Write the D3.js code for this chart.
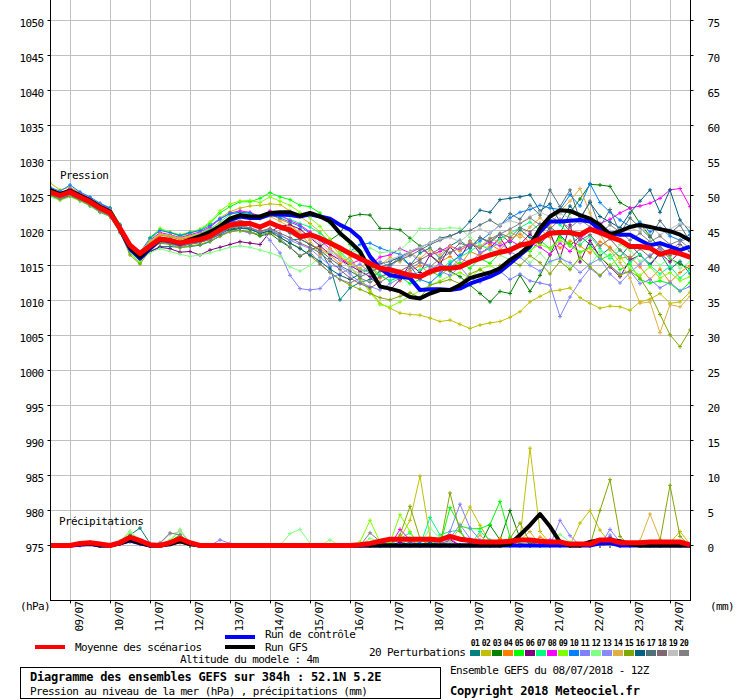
<!DOCTYPE html>
<html>
<head>
<meta charset="utf-8">
<script src="https://cdn.jsdelivr.net/npm/d3@7"></script>
<style>
  body { margin: 0; background: #fff; }
  svg text { font-family: "DejaVu Sans Mono", monospace; font-size: 11px; letter-spacing: -0.6px; fill: #000; }
  svg text.bold { font-weight: bold; font-size: 12px; letter-spacing: -0.2px; }
  svg text.tiny { font-weight: bold; font-size: 8px; letter-spacing: -0.6px; }
</style>
</head>
<body>
<div id="chart"></div>
<script>
// run 08/07/2018 12Z, one step every 6 h up to 384 h
const hours = d3.range(0, 385, 6)
const days = ['09/07','10/07','11/07','12/07','13/07','14/07','15/07','16/07','17/07','18/07','19/07','20/07','21/07','22/07','23/07','24/07']
const dayHours = [12,36,60,84,108,132,156,180,204,228,252,276,300,324,348,372]
const pressTicks = [975,980,985,990,995,1000,1005,1010,1015,1020,1025,1030,1035,1040,1045,1050]
const rainTicks = [0,5,10,15,20,25,30,35,40,45,50,55,60,65,70,75]
const pertNames = ['01','02','03','04','05','06','07','08','09','10','11','12','13','14','15','16','17','18','19','20']
const pertColors = ['#008080','#c0c000','#008000','#ff8000','#00ff00','#800080','#00ff80','#ff00ff','#80ff00','#0080ff',
  '#8080ff','#80ff80','#8888ff','#e0b040','#80a800','#006080','#507078','#806870','#c0c0c0','#808080']

// pression (hPa)
const pressMean = [1025.5,1025.0,1025.5,1024.8,1024.1,1023.2,1022.5,1020.3,1017.9,1016.7,1017.8,1018.8,1018.6,1018.2,1018.5,1018.7,1019.2,1020.1,1020.8,1021.0,1021.0,1020.5,1021.1,1020.5,1020.1,
  1019.1,1019.4,1018.9,1018.2,1017.5,1016.7,1016.0,1015.3,1014.6,1014.4,1014.0,1013.6,1013.4,1014.1,1014.6,1014.6,1014.8,1015.5,1016.0,1016.5,1016.9,1017.2,1017.9,1018.2,1018.8,1019.6,1019.7,1019.7,1019.4,1020.2,1019.7,1019.1,1018.6,1017.7,1017.7,1017.5,1016.6,1017.0,1016.7,1016.2]
const pressGfs = [1025.8,1025.2,1025.7,1025.0,1024.3,1023.4,1022.7,1020.3,1017.6,1016.2,1017.6,1018.8,1018.6,1018.2,1018.7,1019.2,1019.8,1020.6,1021.7,1022.2,1022.0,1022.0,1022.5,1022.6,1022.6,
  1022.1,1022.5,1022.0,1021.3,1019.6,1018.4,1017.0,1014.4,1012.0,1011.7,1011.3,1010.5,1010.3,1011.0,1011.5,1011.5,1012.2,1013.2,1013.6,1014.0,1014.6,1015.8,1016.7,1017.9,1020.3,1022.0,1022.9,1022.8,1022.2,1021.7,1020.8,1019.4,1019.9,1020.5,1020.8,1020.5,1020.2,1019.9,1019.4,1018.6]
const pressCtrl = [1025.7,1025.1,1025.6,1024.9,1024.2,1023.3,1022.6,1020.2,1017.4,1016.0,1017.4,1018.7,1018.5,1018.1,1018.6,1019.0,1019.6,1020.5,1021.5,1022.0,1021.8,1021.8,1022.3,1022.3,1022.2,
  1022.0,1022.3,1022.0,1021.7,1020.8,1020.1,1018.9,1016.3,1014.6,1013.6,1013.4,1013.2,1011.5,1011.6,1011.6,1011.5,1011.7,1012.4,1012.9,1013.4,1014.1,1015.3,1016.5,1017.7,1019.8,1021.3,1021.3,1021.4,1021.5,1021.3,1020.1,1019.6,1019.4,1019.4,1018.6,1017.9,1018.2,1017.7,1017.2,1017.7]

const pert01 = [1025.0,1024.5,1025.0,1024.3,1023.5,1022.6,1022.0,1019.9,1017.5,1016.5,1017.0,1017.7,1017.7,1017.6,1017.7,1017.9,1018.4,1019.2,1020.0,1020.3,1020.2,1019.6,1020.0,1019.3,1018.6,
  1018.8,1018.0,1017.2,1014.8,1010.1,1011.8,1012.6,1013.0,1014.2,1015.0,1016.2,1015.0,1016.8,1017.5,1016.0,1017.8,1018.6,1017.4,1019.0,1018.2,1019.5,1018.3,1020.1,1019.0,1018.2,1020.5,1019.4,1017.8,1019.2,1018.0,1016.4,1017.5,1016.2,1018.0,1016.5,1015.2,1016.8,1014.5,1015.6,1013.8]
const pert02 = [1026.8,1025.8,1026.2,1025.4,1024.6,1023.7,1023.3,1020.8,1018.0,1016.4,1018.2,1019.4,1019.2,1018.7,1019.1,1019.5,1020.4,1021.8,1022.7,1023.2,1023.5,1023.6,1023.8,1023.7,1022.8,
  1022.0,1021.0,1019.8,1018.2,1016.5,1014.8,1013.2,1011.5,1009.6,1008.9,1008.2,1008.0,1007.9,1007.5,1007.0,1007.2,1006.6,1006.0,1006.5,1006.8,1007.0,1007.6,1008.4,1009.8,1010.6,1011.3,1011.5,1011.8,1010.4,1009.6,1008.9,1009.2,1009.1,1008.6,1009.8,1010.2,1011.0,1009.6,1009.8,1011.2]
const pert03 = [1025.6,1025.1,1025.4,1024.7,1024.0,1023.0,1022.4,1020.1,1017.4,1016.0,1017.6,1018.7,1018.4,1018.0,1018.3,1018.5,1019.0,1019.8,1020.2,1020.0,1019.8,1019.2,1019.6,1018.5,1017.6,
  1016.3,1017.2,1017.8,1018.6,1019.6,1022.0,1022.3,1022.2,1020.3,1020.3,1020.1,1018.9,1017.8,1016.5,1015.4,1014.2,1013.4,1012.2,1011.0,1009.8,1011.3,1011.0,1013.6,1011.3,1013.6,1016.5,1019.6,1022.5,1024.5,1026.6,1026.5,1026.3,1024.0,1023.2,1021.0,1019.2,1017.4,1016.0,1015.2,1014.5]
const pert04 = [1025.8,1025.2,1025.8,1025.1,1024.4,1023.5,1022.9,1020.6,1018.0,1016.8,1018.3,1019.3,1019.1,1018.7,1019.0,1019.3,1019.9,1020.8,1021.8,1022.2,1022.0,1021.9,1022.4,1021.6,1021.0,
  1019.5,1018.0,1017.4,1016.5,1015.2,1016.2,1014.0,1015.0,1013.2,1014.0,1012.8,1014.2,1015.0,1013.8,1015.5,1016.3,1015.0,1017.0,1016.4,1018.0,1017.2,1018.8,1019.5,1018.3,1020.2,1019.0,1017.5,1018.5,1017.8,1016.8,1018.4,1017.6,1016.0,1016.3,1014.8,1013.0,1014.5,1012.6,1014.0,1015.0]
const pert05 = [1025.9,1025.3,1025.9,1025.2,1024.6,1023.8,1023.2,1020.9,1016.8,1015.4,1019.0,1020.2,1019.7,1019.2,1019.6,1020.1,1021.0,1022.5,1023.4,1024.1,1024.1,1024.6,1025.4,1024.8,1024.4,
  1023.6,1023.4,1022.5,1021.0,1019.4,1018.0,1016.6,1015.0,1013.6,1012.8,1013.4,1012.4,1013.0,1014.2,1013.5,1014.8,1015.4,1014.6,1016.0,1015.3,1016.8,1017.5,1018.2,1017.0,1018.6,1017.4,1019.0,1018.1,1016.9,1017.6,1015.8,1016.5,1014.4,1015.2,1013.0,1012.5,1012.8,1012.4,1011.3,1012.6]
const pert06 = [1025.3,1024.6,1025.0,1024.3,1023.6,1022.8,1022.0,1019.8,1017.2,1016.0,1017.0,1017.6,1017.4,1016.9,1017.0,1016.5,1017.2,1017.6,1018.0,1018.4,1018.2,1018.0,1019.8,1020.6,1020.8,
  1020.2,1019.0,1017.8,1016.6,1015.8,1015.0,1014.2,1013.4,1012.0,1011.5,1013.0,1015.2,1014.0,1016.5,1015.2,1017.7,1016.0,1018.5,1016.8,1017.5,1019.0,1016.8,1018.0,1019.5,1018.0,1019.8,1016.0,1020.8,1015.5,1018.6,1016.2,1014.8,1013.4,1015.8,1016.5,1015.0,1016.8,1015.5,1017.0,1016.0]
const pert07 = [1025.7,1025.1,1025.7,1025.0,1024.3,1023.4,1022.8,1020.5,1017.8,1016.6,1018.4,1019.5,1019.2,1018.9,1019.3,1019.6,1020.2,1021.2,1022.3,1022.6,1022.4,1021.8,1022.6,1022.0,1021.6,
  1021.0,1020.5,1019.6,1018.4,1017.0,1015.6,1014.5,1014.0,1013.6,1012.8,1013.6,1013.0,1014.4,1015.0,1014.2,1015.6,1016.2,1017.0,1018.0,1017.2,1018.8,1019.6,1020.4,1021.2,1020.0,1021.6,1020.8,1019.5,1018.0,1019.2,1017.4,1016.0,1017.2,1015.4,1016.6,1015.0,1013.8,1014.9,1013.2,1014.4]
const pert08 = [1026.0,1025.3,1026.0,1025.3,1024.6,1023.7,1023.1,1020.7,1018.0,1016.8,1018.6,1019.7,1019.4,1019.0,1019.4,1019.8,1020.5,1021.6,1022.5,1022.8,1022.6,1022.0,1022.8,1022.2,1021.4,
  1020.8,1019.8,1018.6,1017.4,1016.0,1015.2,1015.8,1015.0,1016.2,1016.5,1017.4,1016.8,1017.5,1016.5,1017.0,1017.8,1017.2,1018.0,1017.6,1018.4,1017.8,1018.6,1017.8,1018.2,1017.6,1016.6,1018.2,1017.0,1018.8,1020.0,1021.0,1021.6,1022.5,1023.2,1023.5,1023.9,1024.6,1025.8,1026.0,1023.4]
const pert09 = [1025.4,1024.8,1025.3,1024.6,1024.0,1023.2,1022.7,1020.4,1016.8,1015.3,1018.6,1020.3,1019.8,1019.4,1019.8,1020.2,1021.2,1022.8,1023.8,1024.2,1024.3,1024.0,1024.8,1024.2,1023.6,
  1022.6,1021.8,1020.6,1018.8,1017.0,1015.0,1013.0,1011.2,1009.4,1009.1,1009.8,1010.6,1011.4,1012.2,1012.8,1013.5,1014.0,1013.2,1014.5,1015.0,1014.2,1015.8,1016.4,1017.2,1018.0,1017.4,1018.6,1017.8,1016.8,1017.5,1016.2,1015.0,1016.2,1014.5,1013.6,1014.8,1013.2,1014.0,1012.8,1013.4]
const pert10 = [1026.2,1025.6,1026.5,1025.5,1024.8,1023.9,1023.2,1020.8,1018.0,1016.9,1018.9,1020.0,1019.7,1019.3,1019.7,1020.0,1020.7,1021.7,1022.4,1022.6,1022.5,1021.8,1022.3,1021.8,1021.2,
  1020.6,1019.6,1018.8,1018.0,1017.6,1017.0,1018.0,1018.2,1017.5,1017.0,1016.6,1015.0,1013.0,1012.5,1013.8,1015.2,1016.5,1017.6,1018.5,1019.6,1020.8,1021.8,1022.6,1023.0,1023.6,1023.2,1023.0,1025.1,1023.5,1026.7,1024.0,1022.6,1021.5,1020.6,1021.2,1019.8,1020.4,1019.2,1018.6,1019.4]
const pert11 = [1025.2,1024.6,1025.1,1024.5,1023.8,1022.9,1022.2,1020.0,1017.4,1016.2,1017.4,1018.3,1018.1,1017.7,1018.0,1018.3,1018.7,1019.4,1019.9,1020.0,1019.6,1020.1,1018.6,1016.8,1013.6,
  1011.7,1011.5,1011.7,1013.2,1013.8,1014.6,1015.2,1014.0,1015.6,1014.8,1016.0,1016.8,1015.5,1015.0,1014.2,1013.6,1014.8,1013.2,1012.6,1013.5,1014.2,1013.0,1013.8,1012.8,1012.5,1012.2,1007.7,1010.5,1012.8,1014.6,1013.5,1015.0,1013.8,1014.2,1012.4,1013.0,1011.8,1012.6,1011.4,1012.0]
const pert12 = [1024.8,1024.3,1024.8,1024.2,1023.5,1022.7,1022.0,1019.6,1016.8,1015.8,1016.8,1017.4,1017.0,1016.6,1016.3,1016.5,1016.8,1017.2,1017.6,1017.8,1017.6,1017.2,1016.8,1016.3,1014.8,
  1014.2,1015.0,1016.2,1017.0,1016.5,1017.2,1016.8,1017.5,1016.8,1017.0,1017.2,1018.5,1020.3,1020.3,1020.2,1020.4,1020.3,1019.0,1018.0,1017.4,1016.5,1015.8,1016.6,1015.4,1016.8,1015.2,1016.5,1014.6,1016.0,1015.0,1017.0,1016.2,1018.0,1017.2,1015.6,1016.4,1015.0,1016.2,1014.6,1015.5]
const pert13 = [1025.5,1024.9,1025.4,1024.8,1024.1,1023.3,1022.6,1020.2,1017.6,1016.5,1017.9,1018.8,1018.5,1018.2,1018.4,1018.6,1019.0,1019.8,1020.4,1020.6,1020.4,1019.8,1020.2,1019.4,1018.6,
  1018.0,1017.4,1016.2,1015.0,1014.8,1013.8,1012.6,1012.0,1011.5,1012.4,1013.2,1014.0,1013.6,1014.5,1015.2,1014.6,1016.0,1015.4,1016.8,1017.5,1018.2,1017.0,1016.2,1015.0,1014.2,1015.6,1016.0,1015.4,1014.0,1015.2,1016.0,1013.8,1012.5,1014.0,1015.2,1016.5,1017.4,1016.8,1018.4,1019.0]
const pert14 = [1025.7,1025.2,1025.8,1025.1,1024.4,1023.6,1022.9,1020.6,1018.1,1017.0,1018.5,1019.5,1019.3,1018.9,1019.2,1019.5,1020.0,1021.0,1021.9,1022.2,1022.0,1021.6,1022.0,1021.3,1020.5,
  1019.8,1018.6,1016.5,1017.5,1016.2,1015.4,1014.6,1015.8,1015.0,1016.2,1015.5,1016.8,1016.0,1017.2,1016.5,1017.8,1017.0,1018.4,1017.6,1019.0,1018.2,1019.8,1019.0,1020.5,1021.8,1020.6,1022.8,1024.2,1026.0,1022.5,1019.5,1017.2,1015.4,1013.2,1009.6,1009.8,1005.4,1009.4,1009.1,1010.6]
const pert15 = [1025.0,1024.4,1024.9,1024.3,1023.6,1022.7,1022.1,1019.8,1016.5,1015.2,1017.2,1018.2,1018.0,1017.5,1017.8,1018.0,1018.5,1019.2,1019.8,1020.0,1019.8,1019.4,1019.7,1019.0,1018.2,
  1017.5,1016.4,1015.2,1014.0,1013.0,1012.2,1011.6,1011.0,1010.4,1010.1,1010.6,1011.1,1010.4,1012.2,1012.6,1013.0,1012.4,1013.8,1014.4,1013.6,1015.0,1015.8,1015.0,1016.4,1015.4,1013.8,1015.6,1014.4,1016.2,1014.8,1013.6,1015.0,1013.6,1014.2,1013.2,1011.0,1008.0,1005.1,1003.4,1005.8]
const pert16 = [1025.4,1024.8,1025.3,1024.6,1023.9,1023.1,1022.4,1020.0,1017.4,1016.2,1017.6,1018.4,1018.2,1017.8,1018.1,1018.3,1018.8,1019.5,1020.2,1020.4,1020.2,1019.6,1019.9,1019.0,1018.2,
  1017.4,1016.5,1015.6,1014.5,1013.6,1013.0,1013.8,1014.5,1015.2,1015.6,1016.2,1017.0,1017.6,1018.2,1018.9,1019.2,1019.8,1021.3,1022.9,1022.6,1024.4,1024.6,1024.8,1025.1,1022.8,1023.8,1021.2,1023.5,1021.8,1024.0,1022.0,1021.2,1020.4,1022.5,1024.2,1025.8,1022.6,1025.8,1021.5,1019.8]
const pert17 = [1025.6,1025.0,1025.5,1024.8,1024.1,1023.2,1022.5,1020.2,1017.6,1016.4,1017.9,1018.9,1018.6,1018.3,1018.6,1018.8,1019.4,1020.3,1021.2,1021.4,1021.2,1020.6,1021.3,1020.4,1019.6,
  1018.8,1018.0,1017.2,1016.0,1015.0,1014.2,1013.4,1014.0,1014.8,1015.2,1015.8,1016.4,1017.2,1018.0,1018.6,1019.2,1019.8,1020.0,1020.8,1021.5,1020.6,1022.4,1021.6,1023.6,1022.2,1025.8,1023.4,1025.8,1021.5,1024.2,1020.5,1023.0,1019.6,1021.8,1020.4,1019.0,1021.4,1019.6,1020.8,1018.4]
const pert18 = [1025.3,1024.7,1025.2,1024.5,1023.8,1022.9,1022.3,1020.0,1017.3,1016.0,1017.6,1018.6,1018.3,1017.9,1018.2,1018.4,1018.9,1019.7,1020.4,1020.6,1020.4,1019.9,1020.3,1019.6,1019.0,
  1018.2,1017.6,1016.8,1015.6,1014.4,1013.2,1012.4,1011.8,1012.6,1013.5,1014.2,1015.0,1015.8,1016.6,1017.4,1016.8,1018.2,1017.6,1019.0,1018.4,1019.6,1019.0,1020.4,1019.8,1021.0,1020.2,1021.6,1019.8,1018.6,1019.4,1017.8,1018.8,1017.2,1016.0,1017.4,1016.2,1017.8,1016.4,1018.0,1017.0]
const pert19 = [1025.5,1024.9,1025.5,1024.8,1024.1,1023.2,1022.5,1020.2,1017.8,1016.7,1018.0,1018.9,1018.6,1018.3,1018.6,1018.9,1019.4,1020.3,1021.0,1021.2,1021.1,1020.6,1021.2,1020.6,1020.2,
  1019.6,1019.0,1018.2,1017.0,1015.8,1014.6,1013.8,1014.4,1015.0,1015.8,1016.4,1017.0,1017.6,1018.2,1018.8,1019.0,1018.4,1019.6,1020.2,1019.6,1020.8,1021.4,1021.0,1022.0,1022.6,1022.0,1022.4,1021.8,1021.0,1021.6,1020.6,1020.0,1019.4,1020.4,1019.8,1020.6,1019.4,1020.2,1021.0,1020.4]
const pert20 = [1025.2,1024.6,1025.2,1024.5,1023.7,1022.8,1022.1,1019.7,1017.0,1015.9,1017.4,1018.4,1018.2,1017.8,1018.1,1018.3,1018.8,1019.6,1020.4,1020.6,1020.4,1019.8,1020.2,1018.8,1017.6,
  1016.4,1017.0,1015.2,1014.0,1013.0,1012.5,1013.2,1012.6,1013.4,1014.0,1013.2,1014.6,1015.4,1014.8,1016.0,1016.8,1017.5,1018.2,1017.4,1018.8,1019.5,1020.2,1021.0,1021.8,1020.8,1022.0,1021.2,1020.4,1021.6,1020.5,1019.6,1020.8,1019.8,1018.6,1019.6,1018.4,1019.2,1018.0,1018.6,1017.4]

// précipitations (mm / 6 h)
const rainMean = [0,0,0,0.3,0.4,0.2,0,0.4,1.2,0.7,0.1,0,0.4,1.0,0.4,0, 0,0,0,0,0,0,0,0,0,0,0,0,0,0,0,0.1,
  0.3,0.6,0.9,0.9,0.9,0.9,0.9,0.8,1.3,0.9,0.7,0.5,0.5,0.5,0.6,0.8, 0.8,0.6,0.5,0.5,0.2,0.2,0.2,0.8,0.8,0.4,0.4,0.4,0.5,0.5,0.5,0.5,0.1]
const rainGfs = [0,0,0,0.2,0.3,0,0,0.3,0.8,0.4,0,0,0.2,0.6,0.2,0, 0,0,0,0,0,0,0,0,0,0,0,0,0,0,0,0,
  0,0,0,0,0,0,0,0,0,0,0,0,0,0,0.2,1.5, 2.9,4.5,2.7,0.5,0,0,0.5,0.8,0.8,0.6,0.2,0,0,0,0,0,0]
const rainCtrl = [0,0,0,0.1,0.2,0,0,0.3,0.7,0.3,0,0,0.2,0.7,0.2,0, 0,0,0,0,0,0,0,0,0,0,0,0,0,0,0,0,
  0,0,0,0,0,0,0,0,0,0,0,0,0,0,0,0, 0,0,0,0,0,0,0,0.3,0.4,0,0,0,0,0,0,0,0]

const rain01 = [0,0,0,0.2,0.4,0,0,0.6,1.5,2.5,0.3,0,0.2,0.6,0,0, 0,0,0,0,0,0,0,0,0,0,0,0,0,0,0,0,
  0,0.5,0,0,0,0,0.8,0,0,0,0,0,0.4,0,0,0, 0,0,0,0,0,0,0,0,0,0,0,0,0,0,0,0,0]
const rain02 = [0,0,0,0.3,0.2,0,0,0.4,1.0,0.3,0,0,0.3,0.8,0.2,0, 0,0,0,0,0,0,0,0,0,0,0,0,0,0,0,0,
  0,0,0.3,1.0,3.6,9.9,1.2,0.4,0.5,2.6,5.5,2.9,0.4,0,0,1.0, 13.9,2.0,0.3,0,0,3.2,5.0,2.2,0.3,0,0,0,0,0,0.4,2.0,0.2]
const rain03 = [0,0,0,0.1,0.3,0,0,0.3,0.6,0.2,0,0,0.2,0.5,0,0, 0,0,0,0,0,0,0,0,0,0,0,0,0,0,0,0,
  0,0,0,0,0,0,0,0,0,0,0,0,2.9,0.8,5.0,1.0, 0.3,0,0,0,0,0,0,0.5,1.0,0.4,0,0,0,0,0,0,0]
const rain04 = [0,0,0,0,0.2,0,0,0.2,0.5,0.2,0,0,0.1,0.4,0,0, 0,0,0,0,0,0,0,0,0,0,0,0,0,0,0,0,
  0,0,0,0,0,0,0.5,0,0,0,0,0,0,1.0,0,0, 0,1.2,0.5,0,0,0,0,0,0,0,0,0.3,0,0,0,0,0]
const rain05 = [0,0,0,0.2,0.3,0,0,0.5,1.2,0.4,0,0,0.4,1.3,0.2,0, 0,0,0,0,0,0,0,0,0,0,0,0,0,0,0,0,
  0,0,0,0,1.0,0,0,0,5.4,2.8,2.4,2.4,3.0,6.3,1.2,0.3, 0,0,0,0,0,0,0,0,0.6,0,0,0,0,0,0,0,0]
const rain06 = [0,0,0,0.3,0.5,0.2,0,0.3,0.8,0.3,0,0,0.6,0.9,0.2,0, 0,0,0,0,0,0,0,0,0,0,0,0,0,0,0,0,
  0,0,0,0.5,0,0,0,0,0.8,0,0,0,0,0,0,0, 0,0,0,0,0,0,0,0,1.2,0.4,0,0,0,0,0,0,0]
const rain07 = [0,0,0,0.2,0.3,0,0,0.5,1.4,0.5,0,0,0.5,1.6,0.3,0, 0,0,0,0,0,0,0,0,0,0,0,0,0,0,0,0,
  0,0,0,1.0,1.8,0,4.0,1.5,2.0,2.2,0,2.0,0.8,0,0.4,0, 0,0,0,0,0,0,0,0,0,0,0,0,0,0,0,0,0]
const rain08 = [0,0,0,0.2,0.3,0,0,0.4,1.0,0.3,0,0,0.5,1.0,0.2,0, 0,0,0,0,0,0,0,0,0,0,0,0,0,0,0,0,
  0,0,0,2.3,0.8,0,0,0,1.0,0,0,0,0,0,0.5,0, 0,0,0.8,0.6,0,0,0,0,0,0,0,0,0,0,0,0,0]
const rain09 = [0,0,0,0.3,0.5,0.2,0,0.6,2.0,0.6,0,0,0.6,2.2,0.4,0, 0,0,0,0,0,0,0,0,0,0,0,0,0,0,0,0.5,
  3.6,0.5,0.4,4.4,2.0,0,0,1.2,0.5,0,0,0,0,0,0,0, 0,0,0,0,0,0,0,0,0,0,0,0,0,0,0,0,0]
const rain10 = [0,0,0,0.1,0.2,0,0,0.3,1.0,0.3,0,0,0.3,0.9,0,0, 0,0,0,0,0,0,0,0,0,0,0,0,0,0,0,0,
  0,0,0,0,0,0.4,0,0,0,0,0,0,0,0,0,0, 0,0,0,0,0.3,0,0,0,0,0,0,0,0,0,0,0,0]
const rain11 = [0,0,0,0.1,0.3,0,0,0.3,0.7,0.2,0,0,0.3,0.8,0.2,0, 0,0.8,0.3,0,0,0,0,0,0,0,0,0,0,0,0,0,
  0,0,0,0,0,0,0,0,2.0,5.9,2.5,0.8,0,0,0,0, 0,0,0,3.6,1.4,0,0,0,2.3,0.5,0,0,0,0,0,0,0]
const rain12 = [0,0,0,0.2,0.4,0,0,0.6,2.0,0.8,0,0,0.8,2.3,0.3,0, 0,0,0,0,0,0,0,0,1.7,2.3,0.3,0,0.8,0,0,0,
  1.0,0.6,0,0,0,0,2.5,1.0,0,0,0,0,0,0,0,0, 0,0,0,1.6,0.5,0,0,0,0,0,0,0,0,0,0,0,0]
const rain13 = [0,0,0,0.1,0.3,0,0,0.4,0.9,0.3,0,0,0.3,0.9,0.2,0, 0,0,0,0,0,0,0,0,0,0,0,0,0,0,0,0,
  0,0,0,0,0,0,0,0,1.0,3.0,1.0,0,0,0,0,0, 0,0,0,0,0,0,0,0,1.5,0,0,0,0,0,0,0,0]
const rain14 = [0,0,0,0,0.2,0,0,0.2,0.5,0.2,0,0,0.2,0.7,0,0, 0,0,0,0,0,0,0,0,0,0,0,0,0,0,0,0,
  0,0,0,0,0,0.8,0,0,0,0,0,1.5,0,0,0,0.8, 2.0,0,0,0,0,0,0,0,0,0,0,0.7,4.5,0.9,0,0,0]
const rain15 = [0,0,0,0.2,0.4,0,0,0.4,1.2,0.4,0,0,0.5,1.5,0.3,0, 0,0,0,0,0,0,0,0,0,0,0,0,0,0,0,0,
  0,0,0,1.5,5.6,1.0,0,0,7.5,2.0,0,0,0,0,1.0,3.2, 0.5,0,0,0,0,0,0,5.0,9.4,1.3,0,0,0,0.7,8.6,1.3,0]
const rain16 = [0,0,0,0.1,0.3,0,0,0.4,1.0,0.3,0,0,0.2,0.6,0,0, 0,0,0,0,0,0,0,0,0,0,0,0,0,0,0,0,
  0,0,0,0,0,0,0.4,0,0,0,0,0,0,0.3,0,0, 0,0,0,0,0,0,0,0,0,0,0.3,0,0,0,0,0,0]
const rain17 = [0,0,0,0.2,0.3,0,0,0.5,1.3,0.4,0,0,0.3,1.0,0.2,0, 0,0,0,0,0,0,0,0,0,0,0,0,0,0,0,0,
  0,0,0,0,0.5,0,0,0,0,0,0,0,0,0,0,0, 0,0,0,0,0,0,0,0,0,0,0,0,0,0,0.2,0,0]
const rain18 = [0,0,0,0.1,0.2,0,0,0.3,0.8,0.3,0,0,0.2,0.7,0,0, 0,0,0,0,0,0,0,0,0,0,0,0,0,0,0,0,
  0,0,0,0,0,0,0,0,0,0,0,0,0.3,0,0,0, 0,0,0,0,0,0,0,0,0,0,0,0,0,0,0,0,0]
const rain19 = [0,0,0,0.2,0.3,0,0,0.4,1.0,0.4,0,0.3,1.6,2.0,0.4,0, 0,0,0,0,0,0,0,0,0,0,0,0,0,0,0,0,
  0,0.4,0,0,0,0,0,0,0.5,0,0,0,0,0,0,0, 0,0,0,0,0,0,0,0,0,0,0,0,0,0,0,0,0]
const rain20 = [0,0,0,0.2,0.4,0,0,0.5,1.2,0.4,0,0.4,1.8,1.5,0.3,0, 0,0,0,0,0,0,0,0,0,0,0,0,0,0,0,0,
  1.8,0.6,0,0,0,0,0,0.6,0,0,0,0,0,0,0,0, 0,0,0,0,0,0,0,0,0,0,0,0,0,0,0,0,0]

const pertPress = [pert01,pert02,pert03,pert04,pert05,pert06,pert07,pert08,pert09,pert10,
  pert11,pert12,pert13,pert14,pert15,pert16,pert17,pert18,pert19,pert20]
const pertRain = [rain01,rain02,rain03,rain04,rain05,rain06,rain07,rain08,rain09,rain10,
  rain11,rain12,rain13,rain14,rain15,rain16,rain17,rain18,rain19,rain20]


const x = d3.scaleLinear().domain([0, 384]).range([50, 690])
const yP = d3.scaleLinear().domain([975, 1050]).range([545.5, 20.5])
const yR = d3.scaleLinear().domain([0, 75]).range([545.5, 20.5])

const svg = d3.select('#chart').append('svg')
  .attr('width', 740).attr('height', 700)

svg.append('rect').attr('width', 740).attr('height', 700).attr('fill', '#fff')

svg.append('defs').append('clipPath').attr('id', 'plot')
  .append('rect').attr('x', 50).attr('y', 0).attr('width', 641).attr('height', 600)

// grid
const grid = svg.append('g').attr('stroke', '#c0c0c0').attr('shape-rendering', 'crispEdges')
grid.selectAll('line.h').data(pressTicks).enter().append('line')
  .attr('class', 'h')
  .attr('x1', 50).attr('x2', 690)
  .attr('y1', d => yP(d)).attr('y2', d => yP(d))
grid.selectAll('line.v').data(dayHours).enter().append('line')
  .attr('class', 'v')
  .attr('x1', d => x(d) + 0.5).attr('x2', d => x(d) + 0.5)
  .attr('y1', 0).attr('y2', 600)

// series
const plot = svg.append('g').attr('clip-path', 'url(#plot)')

const lineOf = (scale) => d3.line()
  .x((d, i) => x(hours[i]))
  .y(d => scale(d))

const crosses = (data, scale) => data.map((d, i) => {
  const px = x(hours[i]), py = scale(d)
  return `M${px - 2},${py}H${px + 2}M${px},${py - 2}V${py + 2}`
}).join('')

const drawPerts = (series, scale) => {
  series.forEach((s, k) => {
    plot.append('path').datum(s)
      .attr('d', lineOf(scale))
      .attr('fill', 'none').attr('stroke', pertColors[k]).attr('stroke-width', 1)
    plot.append('path')
      .attr('d', crosses(s, scale))
      .attr('fill', 'none').attr('stroke', pertColors[k]).attr('stroke-width', 1)
  })
}

const drawMain = (data, scale, color, width) => {
  plot.append('path').datum(data)
    .attr('d', lineOf(scale))
    .attr('fill', 'none').attr('stroke', color).attr('stroke-width', width)
    .attr('stroke-linejoin', 'round')
}

drawPerts(pertPress, yP)
drawPerts(pertRain, yR)
drawMain(pressCtrl, yP, '#0000ff', 4)
drawMain(rainCtrl, yR, '#0000ff', 4)
drawMain(pressGfs, yP, '#000000', 4)
drawMain(rainGfs, yR, '#000000', 4)
drawMain(pressMean, yP, '#ff0000', 5)
drawMain(rainMean, yR, '#ff0000', 5)

// axes
const leftAxis = svg.append('g').attr('transform', 'translate(50.5,0)')
  .call(d3.axisLeft(yP).tickValues(pressTicks).tickFormat(d3.format('d'))
    .tickSize(3).tickPadding(4).offset(0))
leftAxis.select('.domain').remove()
leftAxis.selectAll('text').attr('dy', '0.6em')

const rightAxis = svg.append('g').attr('transform', 'translate(690.5,0)')
  .call(d3.axisRight(yR).tickValues(rainTicks).tickFormat(d3.format('d'))
    .tickSize(3).tickPadding(14).offset(0))
rightAxis.select('.domain').remove()
rightAxis.selectAll('text').attr('dy', '0.6em')

const bottomAxis = svg.append('g').attr('transform', 'translate(0,600.5)')
  .call(d3.axisBottom(x).tickValues(dayHours).tickFormat((d, i) => days[i]).tickSize(3).offset(0.5))
bottomAxis.select('.domain').remove()
bottomAxis.selectAll('text')
  .attr('text-anchor', 'start')
  .attr('transform', 'rotate(-90)')
  .attr('x', -31).attr('y', 12).attr('dy', 0)

const frame = svg.append('g').attr('stroke', '#000').attr('shape-rendering', 'crispEdges')
frame.append('line').attr('x1', 50.5).attr('x2', 50.5).attr('y1', 0).attr('y2', 601)
frame.append('line').attr('x1', 690.5).attr('x2', 690.5).attr('y1', 0).attr('y2', 601)
frame.append('line').attr('x1', 50).attr('x2', 691).attr('y1', 600.5).attr('y2', 600.5)

// labels
svg.append('text').attr('x', 60).attr('y', 179).text('Pression')
svg.append('text').attr('x', 59).attr('y', 525).text('Précipitations')
svg.append('text').attr('x', 20).attr('y', 610).text('(hPa)')
svg.append('text').attr('x', 710).attr('y', 610).text('(mm)')

// legend
const legend = svg.append('g')
legend.append('line').attr('x1', 35).attr('x2', 65).attr('y1', 647).attr('y2', 647)
  .attr('stroke', '#ff0000').attr('stroke-width', 4)
legend.append('text').attr('x', 75).attr('y', 651).text('Moyenne des scénarios')
legend.append('line').attr('x1', 225).attr('x2', 255).attr('y1', 637).attr('y2', 637)
  .attr('stroke', '#0000ff').attr('stroke-width', 4)
legend.append('text').attr('x', 265).attr('y', 638).text('Run de contrôle')
legend.append('line').attr('x1', 225).attr('x2', 255).attr('y1', 647).attr('y2', 647)
  .attr('stroke', '#000').attr('stroke-width', 4)
legend.append('text').attr('x', 265).attr('y', 651).text('Run GFS')
legend.append('text').attr('x', 180).attr('y', 663).text('Altitude du modele : 4m')

legend.append('text').attr('x', 369).attr('y', 656).text('20 Perturbations')
legend.selectAll('rect.sw').data(pertColors).enter().append('rect')
  .attr('class', 'sw')
  .attr('x', (d, i) => 470 + i * 11).attr('y', 650)
  .attr('width', 10).attr('height', 6)
  .attr('fill', d => d)
legend.selectAll('text.tiny').data(pertNames).enter().append('text')
  .attr('class', 'tiny')
  .attr('x', (d, i) => 470 + i * 11 + 5).attr('y', 646)
  .attr('text-anchor', 'middle')
  .text(d => d)

legend.append('rect').attr('x', 20.5).attr('y', 667.5).attr('width', 420).attr('height', 31)
  .attr('fill', 'none').attr('stroke', '#000')
legend.append('text').attr('class', 'bold').attr('x', 30).attr('y', 681)
  .text('Diagramme des ensembles GEFS sur 384h : 52.1N 5.2E')
legend.append('text').attr('x', 30).attr('y', 695)
  .text('Pression au niveau de la mer (hPa) , précipitations (mm)')
legend.append('text').attr('x', 450).attr('y', 674).text('Ensemble GEFS du 08/07/2018 - 12Z')
legend.append('text').attr('class', 'bold').attr('x', 450).attr('y', 695).text('Copyright 2018 Meteociel.fr')
</script>
</body>
</html>
